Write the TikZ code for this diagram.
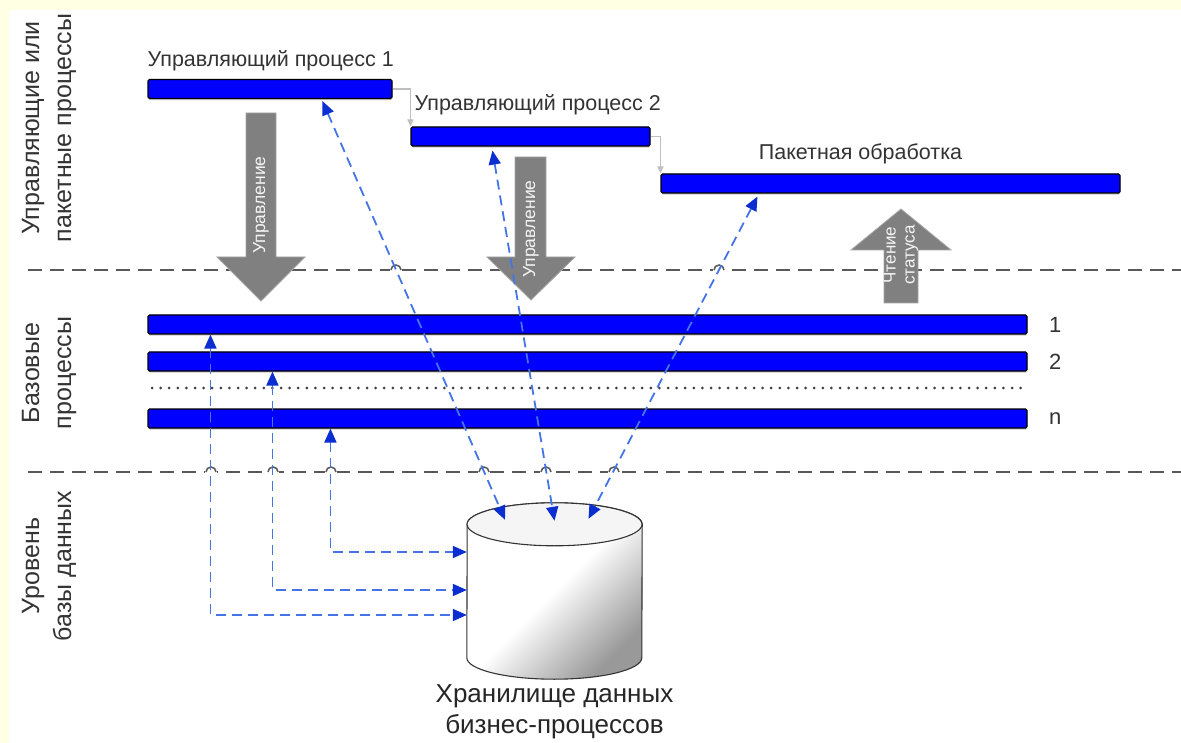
\documentclass[tikz,border=0pt]{standalone}
\usepackage{fontspec}
\setmainfont{Liberation Sans}
\usetikzlibrary{arrows.meta,positioning,shadows}

\definecolor{cream}{HTML}{FFFFE3}
\definecolor{barblue}{HTML}{0000FF}
\definecolor{linkblue}{HTML}{4474E6}
\definecolor{tipblue}{HTML}{0A2ED0}
\definecolor{arrowgray}{HTML}{808080}
\definecolor{inkgray}{HTML}{333333}

\tikzset{
  procbar/.style={draw=black, fill=barblue, line width=1.1pt, rounded corners=1.5pt,
    inner sep=0pt, minimum height=19pt,
    drop shadow={shadow xshift=0.4pt, shadow yshift=-1.6pt, fill=black!35, opacity=0.6}},
  lane/.style={rotate=90, align=center, text=inkgray, font=\fontsize{25}{32}\selectfont},
  proclabel/.style={anchor=base west, inner sep=0pt, text=inkgray, font=\fontsize{21.5}{26}\selectfont},
  num/.style={text=inkgray, font=\fontsize{22}{26}\selectfont},
  biglabel/.style={rotate=90, align=center, text=white!92!gray, font=\fontsize{17.5}{19}\selectfont},
  bigarrow/.style={fill=arrowgray, draw=arrowgray!70!white, line width=0.8pt},
  divider/.style={draw=black!65, line width=1.7pt, dash pattern=on 14pt off 8pt},
  flow/.style={draw=black!25, line width=1.4pt, -{Triangle[length=7pt,width=6pt]}},
  link/.style={draw=linkblue, line width=1.8pt, dash pattern=on 10pt off 6pt,
    >={Triangle[length=14pt,width=12pt,color=tipblue]}, <->},
}

\begin{document}
\begin{tikzpicture}[x=1pt, y=-1pt]
  \useasboundingbox (0,0) rectangle (1181,743);
  \fill[cream] (0,0) rectangle (1181,743);
  \fill[white] (9,10) rectangle (1181,743);

  % lanes
  \node[lane] (lane top) at (49,128) {Управляющие или\\пакетные процессы};
  \node[lane] (lane base) at (49,373) {Базовые\\процессы};
  \node[lane] (lane db) at (49,566) {Уровень\\базы данных};
  \draw[divider] (28,270) -- (1181,270);
  \draw[divider] (28,472) -- (1181,472);
  % hops over the links
  \foreach \hx/\hy in {396/270, 719/270, 211/472, 273/472, 331/472, 484/472, 546/472, 614/472}
  {
    \fill[white] (\hx-6,\hy-5) rectangle (\hx+6,\hy+3);
    \draw[black!65, line width=1.5pt] (\hx-5,\hy) arc[start angle=180, end angle=0, radius=5pt];
  }

  % processes
  \node[procbar, minimum width=244pt] (ctl1) at (270,89) {};
  \node[procbar, minimum width=239pt] (ctl2) at (530.5,136.5) {};
  \node[procbar, minimum width=459pt] (batch) at (890.5,183.5) {};
  \foreach \name/\y in {base1/324.5, base2/361.5, basen/418.5}
    \node[procbar, minimum width=879pt] (\name) at (587.5,\y) {};
  \draw[black!75, line width=3pt, dash pattern=on 0pt off 8.6pt, line cap=round] (152,388) -- (1027,388);

  \node[proclabel] (ctl1 label) at ([yshift=12pt]ctl1.north west) {Управляющий процесс 1};
  \node[proclabel] (ctl2 label) at ([xshift=4pt, yshift=16pt]ctl2.north west) {Управляющий процесс 2};
  \node[proclabel, anchor=base] (batch label) at ([xshift=-30pt, yshift=14pt]batch.north) {Пакетная обработка};
  \node[num, right=18pt of base1] (num1) {1};
  \node[num, right=18pt of base2] (num2) {2};
  \node[num, right=18pt of basen] (numn) {n};

  \draw[flow] (ctl1.east) -| (ctl2.north west);
  \draw[flow] (ctl2.east) -| (batch.north west);

  % big arrows
  \draw[bigarrow] (246,113) -- (276,113) -- (276,257) -- (305,257) -- (261,301) -- (217,257) -- (246,257) -- cycle;
  \node[biglabel] (ctl1 arrow) at (261,205) {Управление};
  \draw[bigarrow] (515,157) -- (546,157) -- (546,257) -- (575,257) -- (531,300) -- (487,257) -- (515,257) -- cycle;
  \node[biglabel] (ctl2 arrow) at (531,229) {Управление};
  \draw[bigarrow] (884,303) -- (918,303) -- (918,250) -- (951,250) -- (901,209) -- (851,250) -- (884,250) -- cycle;
  \node[biglabel, font=\fontsize{17}{19}\selectfont] (status arrow) at (901,255) {Чтение\\статуса};

  % data store
  \node[minimum width=175pt, minimum height=176pt, inner sep=0pt] (store) at (554.5,591) {};
  \draw[black!80, line width=1.1pt, top color=white, bottom color=black!40, middle color=white, shading angle=45]
    ([yshift=21.5pt]store.south west) arc[start angle=180, end angle=360, x radius=87.5pt, y radius=21.5pt]
    -- ([yshift=-21.5pt]store.north east) arc[start angle=0, end angle=180, x radius=87.5pt, y radius=21.5pt] -- cycle;
  \draw[black!80, line width=1.1pt, fill=white!96!black] ([yshift=-21.5pt]store.north) ellipse[x radius=87.5pt, y radius=21.5pt];
  \node[align=center, below=2pt of store, text=black!85, font=\fontsize{26}{31}\selectfont] (store label) {Хранилище данных\\бизнес-процессов};

  % links
  \draw[link] ([xshift=63pt]base1.south west) |- ([yshift=-24pt]store.west);
  \draw[link] ([xshift=125pt]base2.south west) |- ([yshift=1pt]store.west);
  \draw[link] ([xshift=183pt]basen.south west) |- ([yshift=39pt]store.west);
  \draw[link] ([xshift=175pt, yshift=-2pt]ctl1.south west) -- ([xshift=-49.5pt, yshift=-17pt]store.north);
  \draw[link] ([xshift=82pt, yshift=-4pt]ctl2.south west) -- ([yshift=-18pt]store.north);
  \draw[link] ([xshift=97pt, yshift=-3pt]batch.south west) -- ([xshift=34pt, yshift=-16pt]store.north);
\end{tikzpicture}
\end{document}
